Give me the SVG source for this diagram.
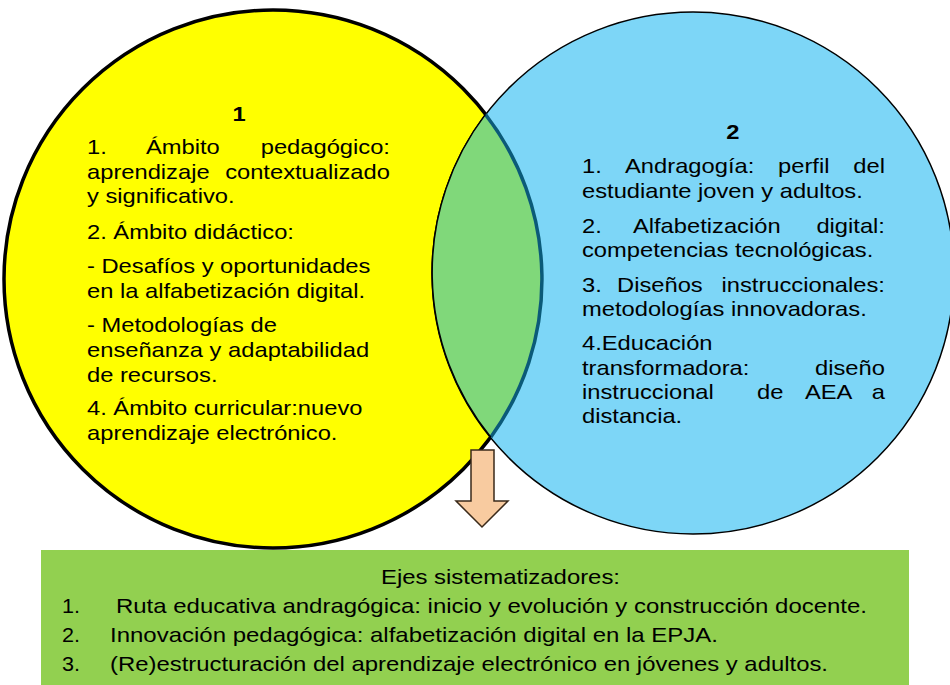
<svg xmlns="http://www.w3.org/2000/svg" width="950" height="685" viewBox="0 0 950 685">
<style>
.t{font-family:"Liberation Sans",Arial,Helvetica,sans-serif;font-size:21px;fill:#000}
.b{font-weight:bold}
.e{text-anchor:end}
.c{text-anchor:middle}
</style>
<rect width="950" height="685" fill="#fff"/>
<g id="circle1">
<circle cx="273" cy="279" r="269" fill="#FFFF00" stroke="#000" stroke-width="3.5"/>
</g>
<g id="circle2">
<circle cx="693" cy="273" r="261" fill="#7DD6F7" stroke="#000" stroke-width="1.5"/>
</g>
<g id="intersection">
<path d="M485.4 114.4 A269 269 0 0 1 490.8 437.2 A261 261 0 0 1 485.4 114.4 Z" fill="#80D87A"/>
<path d="M485.4 114.4 A269 269 0 0 1 490.8 437.2" fill="none" stroke="#0B5A78" stroke-width="3.5"/>
<path d="M490.8 437.2 A261 261 0 0 1 485.4 114.4" fill="none" stroke="#000" stroke-width="1.5"/>
</g>
<g id="text1" transform="translate(87 0) scale(1.13 1)">
<text class="t b c" x="134.5" y="121">1</text>
<text class="t" x="0" y="154">1.</text>
<text class="t" x="52.2" y="154">Ámbito</text>
<text class="t e" x="268.1" y="154">pedagógico:</text>
<text class="t" x="0" y="179">aprendizaje</text>
<text class="t e" x="268.1" y="179">contextualizado</text>
<text class="t" x="0" y="203">y significativo.</text>
<text class="t" x="0" y="239">2. Ámbito didáctico:</text>
<text class="t" x="0" y="273">- Desafíos y oportunidades</text>
<text class="t" x="0" y="298">en la alfabetización digital.</text>
<text class="t" x="0" y="332">- Metodologías de</text>
<text class="t" x="0" y="357">enseñanza y adaptabilidad</text>
<text class="t" x="0" y="382">de recursos.</text>
<text class="t" x="0" y="415">4. Ámbito curricular:nuevo</text>
<text class="t" x="0" y="440">aprendizaje electrónico.</text>
</g>
<g id="text2" transform="translate(582 0) scale(1.13 1)">
<text class="t b c" x="133.6" y="139">2</text>
<text class="t" x="0" y="173">1.</text>
<text class="t" x="38.1" y="173">Andragogía:</text>
<text class="t" x="173.5" y="173">perfil</text>
<text class="t e" x="268.1" y="173">del</text>
<text class="t" x="0" y="198">estudiante joven y adultos.</text>
<text class="t" x="0" y="233">2.</text>
<text class="t" x="45.1" y="233">Alfabetización</text>
<text class="t e" x="268.1" y="233">digital:</text>
<text class="t" x="0" y="257">competencias tecnológicas.</text>
<text class="t" x="0" y="292">3.</text>
<text class="t" x="31" y="292">Diseños</text>
<text class="t e" x="268.1" y="292">instruccionales:</text>
<text class="t" x="0" y="316">metodologías innovadoras.</text>
<text class="t" x="0" y="350">4.Educación</text>
<text class="t" x="0" y="375">transformadora:</text>
<text class="t e" x="268.1" y="375">diseño</text>
<text class="t" x="0" y="399">instruccional</text>
<text class="t" x="154.9" y="399">de</text>
<text class="t" x="197.3" y="399">AEA</text>
<text class="t e" x="268.1" y="399">a</text>
<text class="t" x="0" y="423">distancia.</text>
</g>
<g id="connectors">
<path d="M471 450 H494 V501 H508 L482 527 L456 501 H471 Z" fill="#F8CBA0" stroke="#3A2A1A" stroke-width="1.5" stroke-linejoin="miter"/>
</g>
<g id="ejes">
<rect x="41" y="550" width="868" height="140" fill="#92D050"/>
<text class="t" x="381" y="584" textLength="239" lengthAdjust="spacingAndGlyphs">Ejes sistematizadores:</text>
<text class="t" x="62" y="613" textLength="18" lengthAdjust="spacingAndGlyphs">1.</text>
<text class="t" x="116" y="613" textLength="751" lengthAdjust="spacingAndGlyphs">Ruta educativa andragógica: inicio y evolución y construcción docente.</text>
<text class="t" x="62" y="642" textLength="18" lengthAdjust="spacingAndGlyphs">2.</text>
<text class="t" x="110" y="642" textLength="608" lengthAdjust="spacingAndGlyphs">Innovación pedagógica: alfabetización digital en la EPJA.</text>
<text class="t" x="62" y="671" textLength="18" lengthAdjust="spacingAndGlyphs">3.</text>
<text class="t" x="110" y="671" textLength="718" lengthAdjust="spacingAndGlyphs">(Re)estructuración del aprendizaje electrónico en jóvenes y adultos.</text>
</g>
</svg>
